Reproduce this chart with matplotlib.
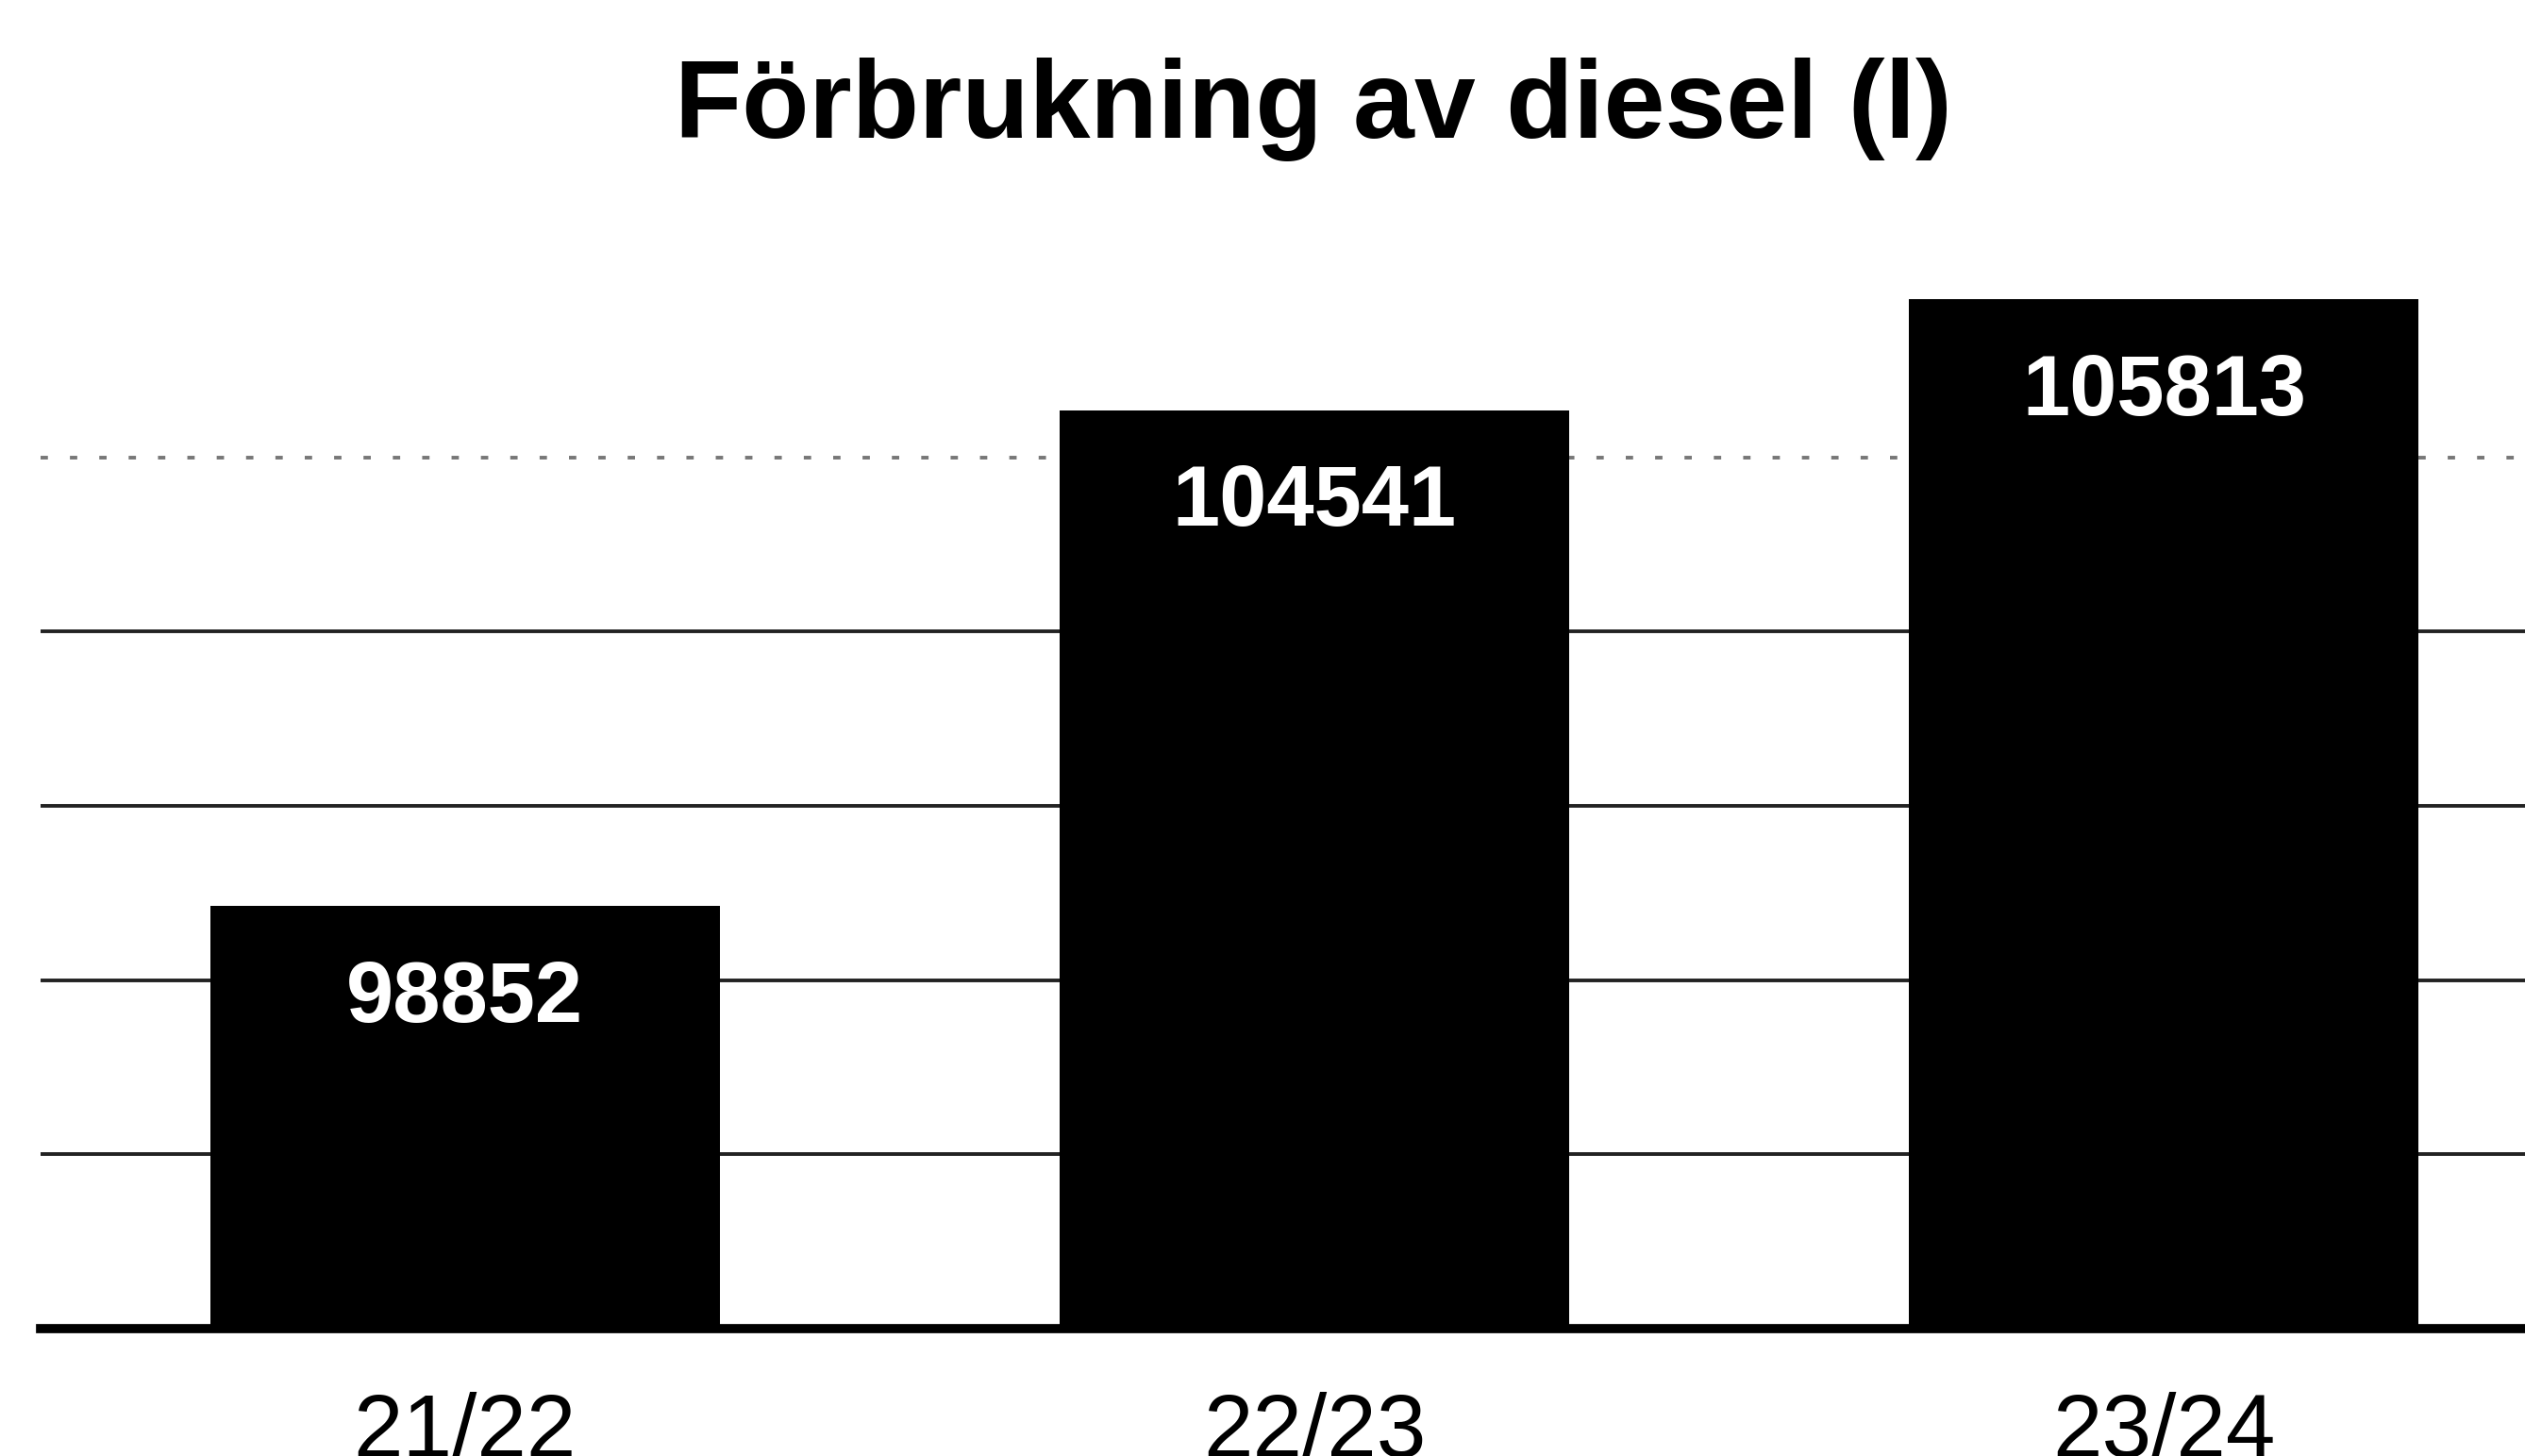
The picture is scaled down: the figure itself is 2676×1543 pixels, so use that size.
import matplotlib.pyplot as plt

plt.rcParams['font.family'] = ['Liberation Sans', 'DejaVu Sans']

# data
seasons = ['21/22', '22/23', '23/24']
diesel = [98852, 104541, 105813]
grid_ticks = [96000, 98000, 100000, 102000, 104000]

fig = plt.figure(figsize=(26.76, 15.43), dpi=100)
ax = fig.add_axes([0.016, 0.0875, 0.984, 0.748])

bars = ax.bar(range(len(seasons)), diesel, width=0.6, color='black', zorder=3)
ax.bar_label(bars, labels=[str(v) for v in diesel], padding=-102,
             color='white', fontsize=65, fontweight='bold')

ax.set_ylim(94000, 106500)
ax.set_xlim(-0.5, 2.425)
ax.set_yticks(grid_ticks)
ax.yaxis.grid(True, color='#222222', linewidth=2.8, zorder=0)
# topmost line is faint in the scan
ax.get_ygridlines()[-1].set_linestyle((0, (2, 6)))
ax.get_ygridlines()[-1].set_color('#777777')
ax.tick_params(axis='y', left=False, labelleft=False)

ax.set_xticks(range(len(seasons)))
ax.set_xticklabels(seasons, fontsize=68)
ax.tick_params(axis='x', length=0, pad=48)

for s in ['top', 'right', 'left']:
    ax.spines[s].set_visible(False)
ax.spines['bottom'].set_linewidth(7)
ax.spines['bottom'].set_zorder(4)

fig.text(0.52, 0.925, 'Förbrukning av diesel (l)', ha='center', va='center',
         fontsize=84, fontweight='bold')

fig.savefig('out.png', dpi=100)
plt.close(fig)
